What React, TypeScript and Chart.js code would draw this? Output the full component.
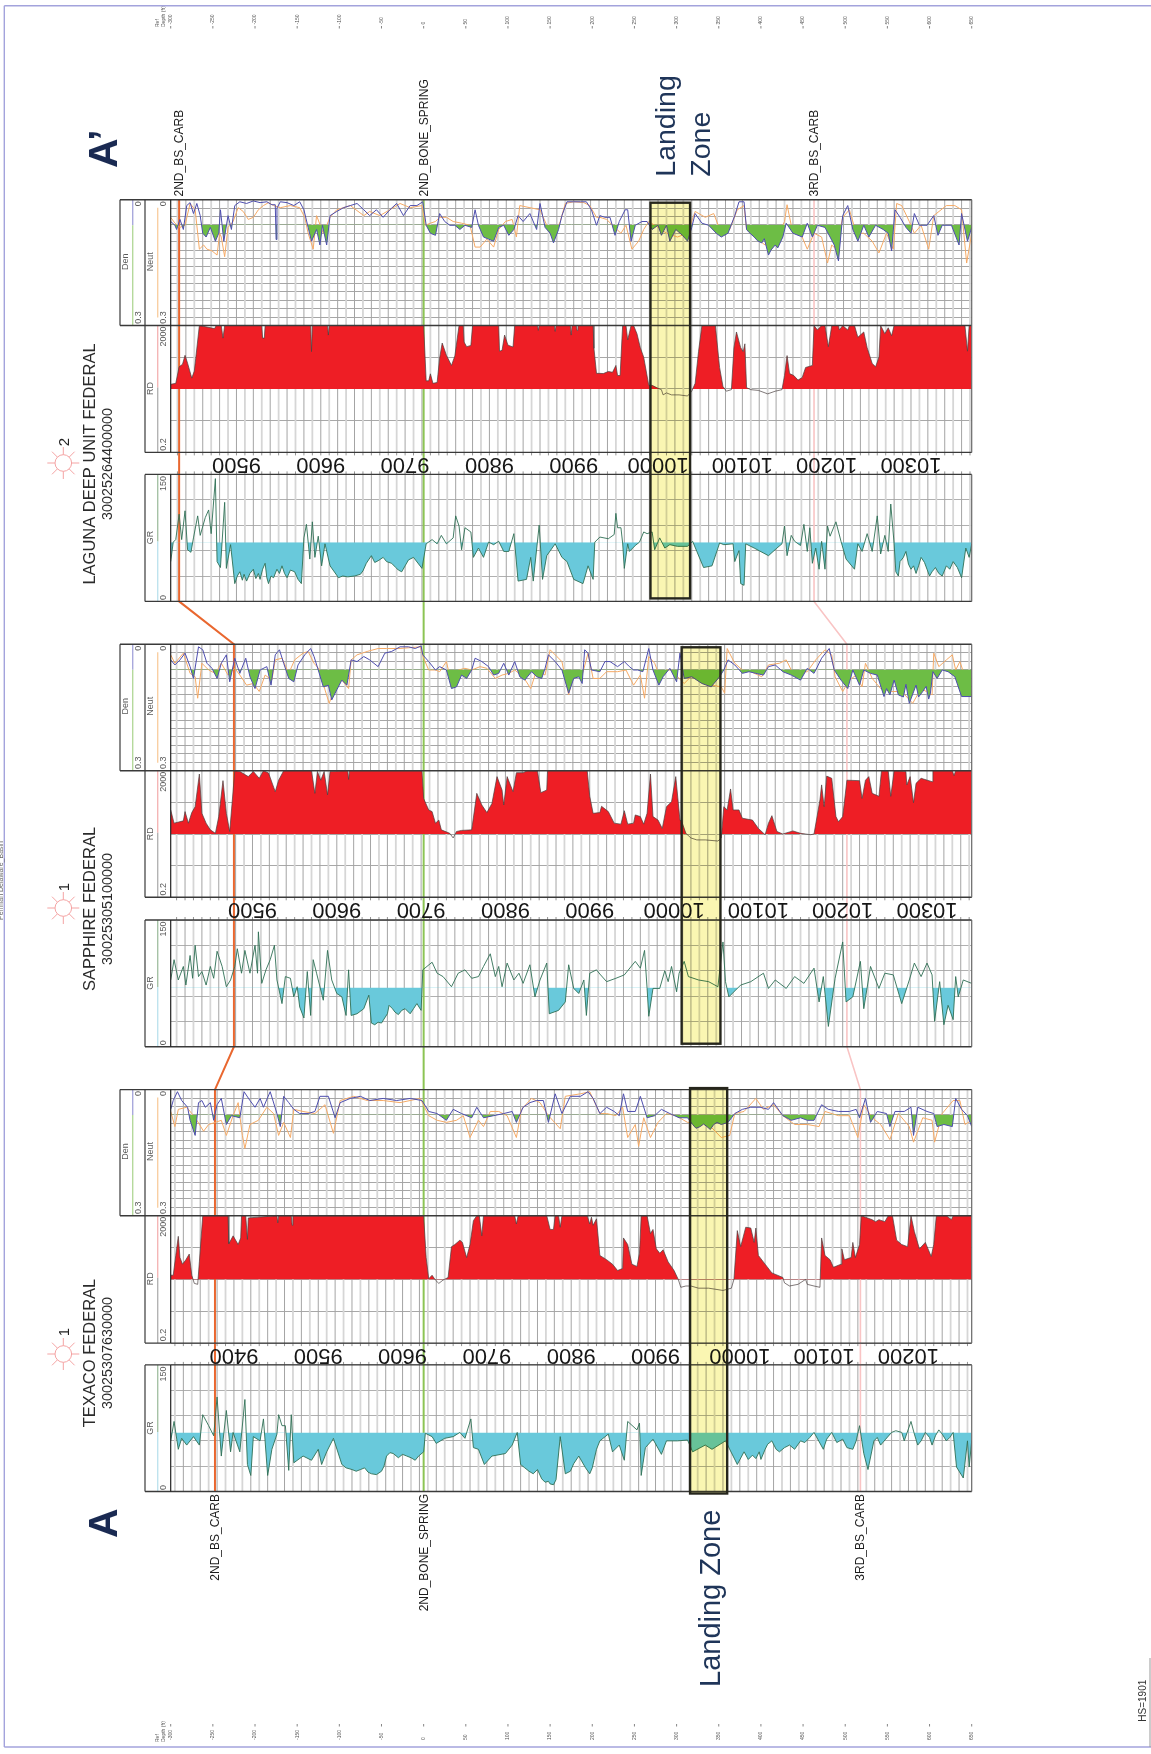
import React, { useEffect, useRef } from "react";
import { Chart, registerables } from "chart.js";

Chart.register(...registerables);

// ---- Curves: [relative depth ft, log value] ----
const denLaguna = [[-300,.052],[-295,.061],[-293,.071],[-289,.047],[-285,.071],[-281,.014],[-277,.007],[-273,.033],[-269,.009],[-265,.038],[-262,.08],[-258,.089],[-253,.066],[-247,.099],[-243,.08],[-241,.024],[-237,.099],[-232,.038],[-228,.071],[-224,.014],[-218,.005],[-210,.009],[-202,.003],[-194,.007],[-186,.005],[-180,.012],[-176,.012],[-175,.095],[-174,.02],[-170,.005],[-162,.007],[-154,.014],[-147,.005],[-142,.024],[-137,.066],[-133,.099],[-127,.071],[-123,.108],[-120,.061],[-115,.108],[-111,.038],[-103,.028],[-95,.019],[-87,.014],[-79,.009],[-71,.024],[-64,.038],[-56,.024],[-48,.042],[-40,.024],[-32,.009],[-24,.038],[-16,.014],[-8,.014],[-1,.005],[3,.061],[8,.08],[14,.085],[19,.033],[25,.052],[31,.061],[37,.061],[43,.071],[49,.061],[57,.066],[61,.024],[65,.061],[71,.089],[77,.094],[83,.099],[89,.066],[95,.061],[101,.085],[107,.071],[112,.038],[118,.052],[126,.033],[134,.071],[138,.009],[144,.066],[150,.08],[154,.103],[160,.071],[164,.038],[170,.005],[178,.005],[186,.005],[193,.005],[199,.024],[205,.061],[209,.038],[215,.042],[221,.042],[227,.085],[232,.052],[239,.024],[242,.024],[246,.099],[251,.061],[259,.052],[265,.052],[271,.071],[278,.061],[282,.085],[288,.061],[292,.099],[299,.071],[307,.085],[313,.099],[318,.066],[322,.033],[330,.056],[338,.061],[347,.08],[353,.089],[361,.08],[369,.038],[374,.005],[380,.005],[383,.071],[386,.078],[392,.089],[396,.098],[401,.103],[404,.093],[409,.132],[412,.12],[417,.108],[420,.115],[426,.089],[430,.056],[438,.08],[449,.089],[455,.056],[461,.089],[467,.061],[476,.066],[482,.089],[487,.108],[492,.146],[497,.038],[503,.014],[509,.071],[515,.099],[522,.061],[528,.089],[536,.061],[545,.071],[551,.08],[555,.122],[559,.024],[565,.042],[572,.066],[578,.08],[582,.033],[588,.061],[597,.061],[605,.038],[610,.085],[615,.061],[626,.061],[635,.108],[638,.033],[645,.099],[650,.066]];
const neutLaguna = [[-300,.042],[-295,.056],[-289,.066],[-283,.061],[-277,.009],[-271,.024],[-268,.08],[-266,.118],[-261,.108],[-257,.118],[-251,.122],[-245,.132],[-242,.08],[-240,.089],[-236,.136],[-232,.066],[-226,.052],[-220,.019],[-214,.028],[-208,.047],[-202,.042],[-196,.024],[-190,.014],[-184,.007],[-178,.014],[-170,.019],[-158,.014],[-147,.019],[-141,.042],[-137,.08],[-131,.118],[-127,.038],[-119,.08],[-111,.042],[-103,.024],[-87,.014],[-71,.038],[-64,.028],[-52,.038],[-40,.024],[-28,.009],[-16,.019],[-2,.014],[2,.061],[8,.056],[14,.052],[19,.042],[27,.042],[35,.052],[45,.056],[55,.061],[61,.113],[67,.113],[75,.094],[83,.113],[89,.071],[97,.052],[105,.047],[110,.089],[114,.014],[126,.019],[138,.024],[146,.061],[154,.089],[162,.052],[168,.009],[178,.005],[190,.007],[197,.014],[205,.042],[209,.042],[217,.047],[224,.061],[234,.08],[240,.061],[247,.118],[255,.099],[261,.071],[267,.052],[278,.066],[288,.08],[301,.089],[313,.08],[322,.028],[334,.042],[344,.033],[353,.08],[363,.071],[372,.024],[380,.014],[383,.071],[392,.089],[405,.108],[417,.099],[428,.052],[431,.012],[436,.061],[447,.08],[455,.118],[463,.08],[472,.089],[479,.151],[484,.108],[489,.118],[497,.042],[505,.024],[513,.08],[522,.08],[532,.099],[540,.127],[549,.08],[557,.118],[561,.009],[567,.014],[576,.052],[582,.08],[590,.061],[599,.118],[605,.038],[620,.014],[630,.014],[638,.024],[644,.151],[650,.08]];
const rdLaguna = [[-300,28],[-294,30],[-290,100],[-286,120],[-283,230],[-280,130],[-275,44],[-272,73],[-266,2000],[-248,1600],[-246,2000],[-240,2000],[-238,800],[-236,2000],[-192,2000],[-191,800],[-189,800],[-188,2000],[-134,2000],[-133,300],[-132,2000],[-114,2000],[-113,1000],[-112,2000],[0,2000],[3,36],[6,36],[8,60],[11,30],[16,32],[19,190],[22,560],[27,230],[33,110],[37,220],[42,2000],[47,2000],[48,600],[51,430],[56,470],[58,2000],[89,2000],[90,310],[93,330],[96,1000],[100,480],[106,420],[108,2000],[135,2000],[136,1400],[137,2000],[155,2000],[156,1300],[157,2000],[174,2000],[175,1000],[176,2000],[181,2000],[182,1400],[183,2000],[201,2000],[202,380],[205,62],[209,62],[213,61],[219,71],[224,67],[228,110],[230,53],[233,53],[236,2000],[240,2000],[242,700],[246,2000],[249,2000],[253,1100],[257,400],[261,200],[267,26],[271,26],[278,21],[282,19],[284,13],[288,15],[294,13],[303,13],[313,12],[318,17],[322,30],[326,300],[330,2000],[346,2000],[351,95],[355,24],[359,17],[365,19],[368,400],[371,1250],[376,400],[379,300],[381,530],[383,22],[388,19],[397,18],[408,14],[417,17],[425,19],[428,53],[431,225],[434,61],[439,53],[444,38],[449,46],[453,95],[461,110],[463,2000],[467,1450],[472,2000],[476,2000],[480,430],[484,2000],[492,2000],[493,1450],[497,2000],[503,1450],[505,2000],[511,2000],[515,850],[522,1250],[526,400],[532,127],[536,100],[540,200],[542,2000],[547,1100],[551,1700],[555,950],[558,2000],[642,2000],[645,310],[647,2000],[650,2000]];
const grLaguna = [[-300,47],[-297,70],[-294,73],[-290,103],[-287,73],[-283,107],[-280,61],[-276,58],[-273,75],[-268,101],[-265,78],[-259,99],[-255,108],[-252,80],[-247,145],[-245,47],[-241,40],[-236,117],[-234,39],[-229,67],[-224,21],[-221,30],[-218,35],[-215,25],[-213,32],[-210,24],[-206,33],[-202,38],[-199,27],[-196,33],[-194,26],[-191,38],[-188,45],[-186,28],[-184,21],[-181,30],[-178,28],[-174,38],[-171,33],[-168,42],[-165,33],[-162,28],[-158,37],[-153,35],[-149,26],[-145,21],[-142,75],[-139,91],[-135,50],[-132,94],[-129,52],[-125,77],[-121,42],[-117,68],[-111,42],[-101,28],[-96,30],[-90,29],[-82,30],[-75,32],[-72,36],[-68,45],[-62,54],[-58,46],[-54,48],[-48,52],[-44,47],[-38,45],[-33,40],[-30,37],[-26,35],[-22,42],[-18,49],[-12,52],[-2,39],[3,68],[10,73],[16,68],[21,78],[27,68],[35,75],[38,101],[42,89],[45,61],[49,87],[56,82],[59,52],[65,63],[71,52],[77,70],[83,67],[89,71],[95,59],[101,59],[107,80],[112,24],[122,26],[127,52],[130,24],[137,90],[141,26],[146,54],[156,68],[164,52],[170,47],[178,26],[189,21],[195,42],[201,26],[203,70],[209,76],[219,74],[226,79],[228,104],[230,87],[234,87],[236,69],[238,39],[242,68],[244,59],[251,66],[256,70],[261,82],[265,80],[271,82],[274,61],[280,75],[286,63],[292,67],[301,65],[313,65],[319,71],[324,59],[332,40],[342,42],[351,69],[356,67],[367,68],[369,47],[374,60],[376,21],[380,19],[382,68],[392,63],[409,54],[419,63],[425,68],[428,89],[431,54],[436,78],[440,71],[447,66],[451,91],[455,59],[458,87],[461,45],[465,63],[469,38],[472,71],[476,38],[479,89],[482,77],[489,94],[495,71],[501,50],[511,38],[515,68],[520,59],[526,80],[532,59],[538,101],[542,56],[547,78],[551,59],[554,115],[558,68],[560,35],[563,30],[565,47],[569,52],[572,59],[575,44],[578,38],[581,42],[584,33],[587,42],[590,52],[594,46],[597,38],[600,30],[603,35],[607,40],[611,33],[615,30],[620,42],[624,38],[628,47],[633,40],[638,28],[643,63],[647,52],[650,68]];

const denSapphire = [[-300,.037],[-295,.049],[-289,.037],[-283,.021],[-277,.053],[-273,.081],[-267,.006],[-262,.013],[-257,.045],[-251,.057],[-245,.081],[-240,.045],[-234,.025],[-230,.089],[-224,.033],[-218,.069],[-211,.033],[-206,.077],[-200,.105],[-194,.061],[-186,.053],[-181,.097],[-176,.025],[-171,.013],[-166,.045],[-160,.081],[-154,.089],[-149,.049],[-141,.025],[-134,.01],[-130,.029],[-125,.061],[-119,.101],[-113,.097],[-109,.132],[-103,.108],[-97,.085],[-91,.097],[-86,.037],[-79,.041],[-71,.029],[-64,.037],[-54,.053],[-46,.021],[-38,.017],[-28,.006],[-18,.006],[-10,.01],[-3,.004],[-1,.025],[6,.041],[14,.061],[19,.053],[27,.061],[33,.105],[39,.101],[45,.073],[51,.081],[57,.061],[61,.033],[69,.041],[77,.053],[83,.073],[89,.069],[95,.045],[101,.073],[108,.041],[114,.077],[120,.085],[128,.065],[134,.077],[140,.081],[144,.057],[148,.025],[156,.041],[164,.061],[172,.116],[178,.081],[184,.077],[188,.093],[191,.013],[195,.021],[199,.061],[209,.065],[215,.041],[221,.041],[230,.053],[238,.041],[244,.053],[249,.061],[254,.061],[260,.065],[267,.01],[272,.061],[279,.097],[284,.077],[292,.057],[300,.089],[304,.021],[309,.081],[318,.077],[330,.093],[341,.101],[351,.077],[356,.061],[361,.037],[369,.049],[378,.069],[386,.065],[394,.069],[403,.073],[409,.053],[417,.049],[426,.065],[436,.073],[447,.085],[455,.057],[463,.069],[472,.033],[481,.01],[487,.061],[495,.085],[503,.105],[509,.061],[517,.097],[522,.061],[530,.069],[538,.073],[546,.124],[549,.105],[553,.12],[556,.098],[558,.085],[563,.12],[569,.125],[572,.095],[576,.14],[584,.097],[587,.125],[592,.112],[596,.1],[599,.13],[601,.116],[604,.065],[609,.081],[615,.061],[622,.065],[630,.077],[638,.124],[650,.124]];
const neutSapphire = [[-300,.025],[-295,.045],[-285,.021],[-277,.069],[-271,.077],[-268,.128],[-263,.045],[-255,.061],[-247,.069],[-240,.045],[-232,.073],[-224,.057],[-218,.073],[-210,.097],[-202,.093],[-195,.112],[-188,.073],[-180,.085],[-176,.037],[-168,.033],[-160,.069],[-153,.037],[-143,.021],[-137,.017],[-130,.045],[-123,.061],[-117,.108],[-112,.14],[-105,.101],[-97,.085],[-89,.105],[-86,.037],[-79,.025],[-67,.017],[-54,.01],[-44,.01],[-28,.01],[-4,.006],[0,.033],[6,.061],[14,.061],[19,.065],[27,.041],[33,.093],[41,.061],[49,.057],[57,.061],[67,.053],[75,.057],[85,.081],[93,.073],[101,.069],[108,.061],[118,.077],[127,.105],[134,.061],[144,.073],[150,.013],[158,.029],[164,.041],[172,.12],[178,.069],[188,.073],[195,.021],[201,.081],[209,.081],[217,.065],[230,.065],[240,.061],[249,.097],[257,.073],[262,.128],[267,.029],[274,.045],[280,.077],[288,.061],[294,.061],[303,.081],[309,.093],[317,.077],[330,.085],[342,.097],[353,.101],[357,.116],[360,.01],[369,.045],[378,.061],[388,.065],[401,.077],[409,.049],[422,.045],[430,.037],[438,.069],[455,.065],[465,.037],[476,.013],[484,.025],[488,.077],[497,.112],[505,.085],[513,.073],[520,.101],[524,.045],[532,.081],[542,.105],[555,.112],[567,.112],[580,.14],[590,.105],[603,.12],[605,.021],[611,.053],[620,.037],[627,.025],[631,.061],[636,.041],[650,.124]];
const rdSapphire = [[-300,115],[-296,44],[-285,52],[-283,102],[-279,44],[-275,95],[-271,146],[-266,1570],[-263,90],[-258,44],[-253,27],[-247,21],[-243,71],[-238,970],[-234,90],[-230,24],[-224,2000],[-218,1900],[-208,1300],[-202,1900],[-195,1150],[-190,2000],[-184,1700],[-176,435],[-172,1000],[-166,2000],[-133,2000],[-129,385],[-126,1900],[-122,1000],[-118,1900],[-114,345],[-111,1900],[-90,2000],[-89,1060],[-88,2000],[-2,2000],[0,265],[6,115],[10,102],[14,44],[18,55],[21,27],[31,21],[35,15],[39,24],[45,26],[57,27],[63,385],[69,165],[75,95],[81,185],[87,1300],[93,490],[95,165],[99,1300],[106,435],[110,1730],[118,1730],[123,2000],[135,1950],[139,405],[146,490],[147,2000],[194,2000],[197,310],[201,90],[209,95],[211,150],[219,102],[226,44],[234,41],[238,109],[242,41],[249,44],[251,80],[257,71],[261,41],[265,90],[269,1570],[272,71],[278,55],[283,30],[288,146],[294,210],[299,1300],[304,55],[306,51],[311,21],[317,15],[324,13],[334,13],[349,12],[353,15],[356,146],[360,115],[364,530],[367,115],[374,115],[378,63],[390,55],[397,30],[405,19],[409,44],[413,76],[419,24],[426,20],[438,25],[447,21],[459,19],[463,20],[470,237],[472,712],[475,146],[478,1350],[484,1150],[489,71],[492,49],[497,71],[502,1000],[517,970],[520,265],[524,1000],[528,1300],[532,385],[540,310],[543,2000],[551,2000],[554,310],[558,2000],[572,1900],[573,712],[577,1300],[581,195],[584,800],[590,1150],[603,900],[604,2000],[627,2000],[629,1400],[631,2000],[650,2000]];
const grSapphire = [[-300,79],[-296,103],[-291,79],[-285,95],[-282,73],[-277,108],[-274,81],[-271,120],[-267,83],[-263,89],[-258,73],[-253,95],[-249,81],[-245,113],[-239,95],[-234,71],[-229,79],[-224,95],[-221,116],[-216,87],[-212,114],[-206,87],[-200,120],[-197,87],[-196,136],[-192,75],[-187,91],[-182,103],[-177,120],[-174,79],[-168,51],[-164,83],[-158,81],[-154,59],[-150,71],[-147,47],[-142,34],[-138,89],[-134,37],[-131,103],[-127,87],[-119,55],[-114,114],[-109,79],[-103,63],[-97,59],[-92,37],[-89,91],[-86,37],[-79,39],[-71,45],[-65,61],[-62,28],[-58,26],[-54,29],[-50,28],[-43,39],[-41,49],[-37,45],[-34,41],[-30,38],[-26,43],[-22,45],[-16,39],[-12,45],[-8,51],[-3,43],[-1,91],[10,100],[16,87],[23,83],[33,71],[41,87],[49,91],[57,81],[65,83],[71,95],[79,110],[85,83],[89,95],[93,71],[99,99],[107,79],[113,87],[118,75],[126,97],[132,59],[138,79],[146,99],[149,39],[160,43],[168,53],[172,97],[178,69],[184,63],[190,79],[193,37],[197,87],[205,91],[209,86],[217,77],[228,81],[238,85],[251,101],[257,93],[262,114],[265,69],[267,36],[272,69],[280,69],[286,90],[290,77],[294,95],[300,65],[303,87],[309,101],[314,83],[326,79],[338,77],[349,71],[355,124],[358,77],[362,59],[376,73],[388,77],[403,87],[409,69],[417,79],[430,69],[440,83],[451,75],[463,93],[469,53],[474,83],[480,24],[488,81],[497,124],[501,53],[509,59],[518,101],[522,45],[530,95],[540,69],[547,87],[557,85],[567,51],[576,79],[582,99],[590,83],[597,99],[603,85],[606,30],[612,77],[617,26],[622,49],[628,32],[631,83],[634,59],[640,79],[650,75]];

const denTexaco = [[-300,.047],[-297,.026],[-292,.005],[-287,.026],[-280,.042],[-277,.073],[-271,.109],[-267,.031],[-263,.026],[-259,.042],[-253,.031],[-249,.073],[-245,.036],[-240,.021],[-234,.083],[-228,.062],[-218,.067],[-213,.005],[-206,.026],[-200,.042],[-194,.021],[-190,.042],[-182,.005],[-174,.057],[-170,.088],[-166,.016],[-160,.031],[-154,.047],[-147,.057],[-137,.057],[-129,.052],[-123,.016],[-113,.016],[-105,.067],[-99,.031],[-87,.021],[-75,.016],[-64,.026],[-48,.021],[-32,.026],[-16,.021],[-2,.026],[6,.052],[16,.057],[27,.073],[35,.047],[45,.057],[57,.067],[63,.042],[71,.067],[83,.062],[95,.057],[105,.052],[110,.078],[118,.042],[126,.031],[134,.026],[142,.026],[148,.078],[156,.01],[164,.057],[174,.016],[186,.016],[195,.005],[201,.021],[209,.057],[217,.042],[226,.052],[232,.062],[237,.01],[242,.052],[251,.052],[257,.016],[265,.067],[274,.062],[282,.047],[292,.057],[303,.067],[313,.067],[319,.083],[323,.092],[328,.088],[332,.082],[336,.088],[340,.095],[344,.083],[348,.078],[353,.083],[361,.078],[369,.057],[378,.047],[388,.042],[399,.042],[409,.047],[415,.031],[426,.062],[436,.073],[447,.067],[455,.073],[463,.073],[472,.036],[480,.047],[492,.052],[505,.052],[513,.047],[517,.067],[524,.021],[530,.078],[538,.052],[549,.057],[553,.088],[559,.052],[570,.052],[578,.042],[581,.109],[586,.042],[597,.052],[605,.057],[609,.088],[617,.083],[627,.088],[631,.021],[638,.047],[645,.062],[650,.088]];
const neutTexaco = [[-300,.052],[-295,.088],[-291,.047],[-281,.042],[-275,.057],[-269,.073],[-261,.099],[-255,.083],[-247,.078],[-240,.073],[-234,.109],[-226,.062],[-220,.031],[-215,.109],[-212,.14],[-206,.083],[-196,.073],[-186,.042],[-178,.057],[-172,.109],[-166,.078],[-158,.114],[-154,.047],[-143,.052],[-129,.057],[-117,.036],[-107,.104],[-99,.026],[-83,.016],[-67,.026],[-48,.026],[-28,.031],[-4,.021],[6,.062],[16,.073],[27,.078],[39,.073],[47,.062],[55,.114],[65,.073],[71,.088],[79,.052],[89,.052],[99,.062],[110,.114],[116,.047],[128,.021],[138,.031],[148,.062],[162,.093],[168,.016],[186,.01],[197,.005],[209,.057],[217,.057],[228,.062],[236,.042],[242,.114],[251,.083],[255,.135],[261,.067],[269,.114],[278,.078],[288,.057],[299,.062],[313,.078],[324,.078],[338,.083],[353,.114],[363,.109],[369,.057],[380,.052],[394,.021],[403,.047],[415,.036],[426,.062],[440,.083],[455,.083],[469,.088],[476,.052],[492,.062],[505,.062],[515,.114],[522,.036],[532,.067],[542,.083],[553,.119],[563,.057],[576,.088],[581,.125],[592,.067],[603,.073],[606,.125],[615,.057],[628,.026],[636,.026],[642,.083],[650,.073]];
const rdTexaco = [[-300,27],[-297,27],[-294,113],[-291,450],[-289,97],[-286,60],[-282,83],[-278,125],[-275,27],[-272,15],[-268,14],[-266,71],[-262,2000],[-232,2000],[-231,265],[-226,466],[-220,249],[-217,400],[-216,2000],[-211,2000],[-209,360],[-208,1700],[-174,2000],[-173,1190],[-172,2000],[-157,2000],[-156,1000],[-155,2000],[0,2000],[3,97],[6,21],[10,27],[14,19],[18,15],[23,19],[29,23],[33,213],[37,249],[43,341],[46,290],[51,97],[55,249],[59,1400],[63,2000],[66,2000],[69,466],[71,2000],[108,2000],[110,1100],[112,2000],[146,2000],[150,740],[154,740],[156,2000],[160,2000],[162,870],[164,2000],[194,2000],[197,1100],[199,1800],[201,1000],[205,1600],[209,113],[217,83],[224,60],[230,38],[236,44],[237,400],[242,249],[247,60],[253,51],[256,133],[258,2000],[265,2000],[269,550],[272,740],[276,182],[280,133],[284,170],[290,71],[297,38],[302,20],[305,11.3],[311,12.4],[317,12.4],[326,10.6],[338,10.6],[355,9],[365,10.6],[368,20],[372,680],[376,213],[382,870],[388,820],[392,290],[394,820],[397,113],[405,60],[413,32],[426,23],[428,15.5],[434,12.4],[444,14],[453,20],[455,14],[463,12.4],[470,11.3],[472,400],[476,113],[482,83],[486,48],[495,60],[496,182],[499,83],[507,97],[509,290],[512,97],[517,249],[519,2000],[532,1500],[536,1300],[540,1500],[547,1300],[551,2000],[556,2000],[561,341],[567,249],[574,213],[578,2000],[582,637],[588,182],[595,290],[602,105],[605,249],[608,2000],[620,2000],[626,1500],[628,2000],[650,2000]];
const grTexaco = [[-300,60],[-296,83],[-291,50],[-287,63],[-281,55],[-273,65],[-266,55],[-262,91],[-255,78],[-249,66],[-245,112],[-240,42],[-234,96],[-229,47],[-226,70],[-218,47],[-212,109],[-209,32],[-205,19],[-202,65],[-194,60],[-190,86],[-185,19],[-180,50],[-174,68],[-172,91],[-168,78],[-164,78],[-160,25],[-157,91],[-154,34],[-143,42],[-133,37],[-125,50],[-121,32],[-115,47],[-107,63],[-97,32],[-92,28],[-85,26],[-80,24],[-75,26],[-70,28],[-66,23],[-62,21],[-56,20],[-50,24],[-47,30],[-44,42],[-40,46],[-36,45],[-30,40],[-25,44],[-20,42],[-15,40],[-10,37],[-6,42],[0,47],[2,69],[10,65],[15,57],[25,63],[35,65],[43,70],[49,63],[56,86],[59,52],[65,50],[72,32],[81,42],[97,45],[105,55],[111,70],[115,32],[120,28],[125,24],[130,21],[135,26],[140,15],[144,11],[148,12],[150,9],[154,8],[157,14],[162,65],[168,21],[174,24],[178,33],[184,42],[188,35],[192,28],[197,21],[200,28],[205,50],[209,60],[219,68],[224,47],[232,55],[238,37],[242,83],[253,73],[256,81],[258,19],[263,52],[272,62],[282,44],[288,60],[301,60],[313,61],[319,47],[334,55],[342,50],[358,60],[372,32],[380,47],[385,38],[390,43],[394,39],[398,47],[400,38],[405,50],[408,56],[413,60],[418,50],[422,47],[428,52],[434,55],[440,50],[447,60],[452,58],[458,64],[463,70],[474,50],[478,62],[484,70],[490,58],[497,62],[502,52],[509,50],[513,60],[517,78],[522,45],[527,26],[534,60],[538,64],[542,55],[548,62],[555,70],[560,72],[567,70],[570,60],[578,83],[582,68],[586,55],[590,60],[595,70],[600,64],[603,55],[607,66],[611,73],[615,68],[620,60],[624,64],[628,70],[632,29],[640,16],[645,60],[647,29],[650,60]];

// ---- Wells, tops and labels ----
const wellNames = ["LAGUNA DEEP UNIT FEDERAL", "SAPPHIRE FEDERAL", "TEXACO FEDERAL"];
const wellApis = ["30025264400000", "30025305100000", "30025307630000"];
const wellNumbers = ["2", "1", "1"];
const depthAtZero = [9722, 9703, 9625];
const depthLabels = [
  [9500, 9600, 9700, 9800, 9900, 10000, 10100, 10200, 10300],
  [9500, 9600, 9700, 9800, 9900, 10000, 10100, 10200, 10300],
  [9400, 9500, 9600, 9700, 9800, 9900, 10000, 10100, 10200],
];
const top2ndBsCarb = [-290, -225, -247.5];
const top2ndBoneSpring = [0, 0, 0];
const top3rdBsCarb = [463, 502, 518];
const landingTop = [269, 306, 316];
const landingBase = [316, 352, 360];
const relTicks = [-300,-250,-200,-150,-100,-50,0,50,100,150,200,250,300,350,400,450,500,550,600,650];
const rdGrid = [0.2, 2, 20, 200, 2000];

// ---- Layout and style ----
const X_LEFT = 170.7, X_RIGHT = 971.7, BOX_L = 120, BOX_M = 145;
const ROWS = [
  { y0: 199.7, y1: 325.5, y2: 452.4, y3: 474.4, y4: 601.4, cy: 464, starY: 463, numY: 442 },
  { y0: 644.3, y1: 770.7, y2: 897.3, y3: 920, y4: 1046.7, cy: 909, starY: 908, numY: 887 },
  { y0: 1089.6, y1: 1215.7, y2: 1343.1, y3: 1364.9, y4: 1491.5, cy: 1353, starY: 1354, numY: 1332 },
];
const FONT = "'Liberation Sans', Arial, sans-serif";
const NAVY = "#1f3559";

const xy = (a: number[][]) => a.map(([x, y]) => ({ x, y }));

function vText(ctx: any, s: string, x: number, y: number, font: string, color: string, align: CanvasTextAlign = "center", base: CanvasTextBaseline = "alphabetic") {
  ctx.save();
  ctx.translate(x, y);
  ctx.rotate(-Math.PI / 2);
  ctx.font = font;
  ctx.fillStyle = color;
  ctx.textAlign = align;
  ctx.textBaseline = base;
  ctx.fillText(s, 0, 0);
  ctx.restore();
}

function seg(ctx: any, x1: number, y1: number, x2: number, y2: number, color: string, w: number) {
  ctx.strokeStyle = color;
  ctx.lineWidth = w;
  ctx.beginPath();
  ctx.moveTo(x1, y1);
  ctx.lineTo(x2, y2);
  ctx.stroke();
}

const sheet = {
  id: "sheet",
  afterLayout(chart: any) {
    ROWS.forEach((r, i) => {
      const place = (id: string, top: number, bottom: number) => {
        const s = chart.scales[id];
        s.top = top; s.bottom = bottom; s.height = bottom - top;
        s.configure();
        s._gridLineItems = null;
      };
      place("yPor" + i, r.y0, r.y1);
      place("yRd" + i, r.y1, r.y2);
      place("yGr" + i, r.y3, r.y4);
    });
  },
  beforeDatasetsDraw(chart: any) {
    const { ctx } = chart;
    const x = chart.scales.x;
    ctx.save();
    // depth grid, one line each 10 ft of measured depth
    ROWS.forEach((r, i) => {
      const off = depthAtZero[i];
      const first = Math.ceil((off - 300) / 10) * 10;
      for (let d = first; d - off <= 650; d += 10) {
        const px = x.getPixelForValue(d - off);
        const strong = d % 20 === 0;
        const color = strong ? "#a4a4a4" : "#d6d6d6";
        const w = strong ? 1 : 1.8;
        seg(ctx, px, r.y0, px, r.y2, color, w);
        seg(ctx, px, r.y3, px, r.y4, color, w);
        seg(ctx, px, r.y2, px, r.y2 + 3, "#777", 0.8);
        seg(ctx, px, r.y3 - 3, px, r.y3, "#777", 0.8);
      }
    });
    // correlation lines between wells
    const corr = (tops: number[], color: string, w: number) => {
      ctx.strokeStyle = color;
      ctx.lineWidth = w;
      ctx.beginPath();
      ROWS.forEach((r, i) => {
        const px = x.getPixelForValue(tops[i]);
        if (i === 0) ctx.moveTo(px, r.y0); else ctx.lineTo(px, r.y0);
        ctx.lineTo(px, r.y4);
      });
      ctx.stroke();
    };
    corr(top3rdBsCarb, "#f9c4c4", 1.6);
    corr(top2ndBoneSpring, "#8cc454", 2);
    corr(top2ndBsCarb, "#e9672f", 2);
    ctx.restore();
  },
  afterDatasetsDraw(chart: any) {
    const { ctx } = chart;
    const x = chart.scales.x;
    ctx.save();
    ROWS.forEach((r, i) => {
      // depth labels, printed upside down
      ctx.font = `22px ${FONT}`;
      ctx.fillStyle = "#161616";
      ctx.textAlign = "center";
      ctx.textBaseline = "middle";
      depthLabels[i].forEach((d) => {
        ctx.save();
        ctx.translate(x.getPixelForValue(d - depthAtZero[i]), (r.y2 + r.y3) / 2 + 0.8);
        ctx.rotate(Math.PI);
        ctx.fillText(String(d), 0, 0);
        ctx.restore();
      });
      // header colour strips
      const stripA = BOX_L + 12.7, stripB = BOX_M + 12.7;
      seg(ctx, stripA, r.y0, stripA, r.y0 + 25.5, "#a9a9dc", 1.4);
      seg(ctx, stripA, r.y0 + 25.5, stripA, r.y1, "#b5d99c", 1.4);
      seg(ctx, stripB, r.y0 + 8, stripB, r.y1 - 8, "#f9cfa3", 1.4);
      seg(ctx, stripB, r.y1, stripB, r.y1 + 62, "#f4b6b6", 1.4);
      seg(ctx, stripB, r.y1 + 62, stripB, r.y2, "#b3b3b3", 1.4);
      seg(ctx, stripB, r.y3, stripB, r.y3 + 67, "#a6c2a6", 1.4);
      seg(ctx, stripB, r.y3 + 67, stripB, r.y4, "#bfe3ee", 1.4);
      // header text
      const small = `9px ${FONT}`;
      const g = "#5a5a5a";
      vText(ctx, "Den", 126, r.y0 + 62, small, g, "center", "middle");
      vText(ctx, "Neut", 151, r.y0 + 62, small, g, "center", "middle");
      vText(ctx, "RD", 151, r.y1 + 63, small, g, "center", "middle");
      vText(ctx, "GR", 151, r.y3 + 63, small, g, "center", "middle");
      vText(ctx, "0", 138.3, r.y0 + 4, small, g, "center", "middle");
      vText(ctx, "0.3", 138.3, r.y1 - 8, small, g, "center", "middle");
      vText(ctx, "0", 163.5, r.y0 + 4, small, g, "center", "middle");
      vText(ctx, "0.3", 163.5, r.y1 - 8, small, g, "center", "middle");
      vText(ctx, "2000", 163.5, r.y1 + 11, small, g, "center", "middle");
      vText(ctx, "0.2", 163.5, r.y2 - 8, small, g, "center", "middle");
      vText(ctx, "150", 163.5, r.y3 + 9, small, g, "center", "middle");
      vText(ctx, "0", 163.5, r.y4 - 4, small, g, "center", "middle");
      // frame of the tracks
      const dark = "#3a3a3a";
      seg(ctx, BOX_L, r.y0, X_RIGHT, r.y0, dark, 1.4);
      seg(ctx, BOX_L, r.y1, X_RIGHT, r.y1, dark, 1.4);
      seg(ctx, BOX_M, r.y2, X_RIGHT, r.y2, dark, 1.4);
      seg(ctx, BOX_M, r.y3, X_RIGHT, r.y3, dark, 1.4);
      seg(ctx, BOX_M, r.y4, X_RIGHT, r.y4, dark, 1.4);
      seg(ctx, BOX_L, r.y0, BOX_L, r.y1, dark, 1.2);
      seg(ctx, BOX_M, r.y0, BOX_M, r.y2, dark, 1.2);
      seg(ctx, BOX_M, r.y3, BOX_M, r.y4, dark, 1.2);
      seg(ctx, X_LEFT, r.y0, X_LEFT, r.y2, "#222", 1.2);
      seg(ctx, X_LEFT, r.y3, X_LEFT, r.y4, "#222", 1.2);
      seg(ctx, X_RIGHT, r.y0, X_RIGHT, r.y2, "#666", 1.2);
      seg(ctx, X_RIGHT, r.y3, X_RIGHT, r.y4, "#666", 1.2);
      // landing zone box
      const a = x.getPixelForValue(landingTop[i]);
      const b = x.getPixelForValue(landingBase[i]);
      const bt = r.y0 + 3, bb = i === 2 ? r.y4 + 2 : r.y4 - 3;
      const boxTop = i === 2 ? r.y0 - 1.5 : bt;
      ctx.save();
      ctx.globalCompositeOperation = "multiply";
      ctx.fillStyle = "#faf6b2";
      ctx.fillRect(a, boxTop, b - a, bb - boxTop);
      ctx.restore();
      ctx.strokeStyle = "#26261c";
      ctx.lineWidth = 2.4;
      ctx.strokeRect(a, boxTop, b - a, bb - boxTop);
      // well symbol and names
      const sx = 63.3, sy = r.starY;
      ctx.strokeStyle = "#f4a3a3";
      ctx.lineWidth = 1;
      ctx.beginPath();
      ctx.arc(sx, sy, 8.3, 0, Math.PI * 2);
      ctx.stroke();
      for (let k = 0; k < 8; k++) {
        const t = (k * Math.PI) / 4;
        seg(ctx, sx + 8.3 * Math.cos(t), sy + 8.3 * Math.sin(t), sx + 16 * Math.cos(t), sy + 16 * Math.sin(t), "#f4a3a3", 1);
      }
      vText(ctx, wellNumbers[i], 69, r.numY, `15px ${FONT}`, "#222");
      vText(ctx, wellNames[i], 95, r.cy, `16.5px ${FONT}`, "#2b2b2b");
      vText(ctx, wellApis[i], 112.3, r.cy, `14.4px ${FONT}`, "#2b2b2b");
    });

    // formation labels
    const tops = [["2ND_BS_CARB", top2ndBsCarb], ["2ND_BONE_SPRING", top2ndBoneSpring], ["3RD_BS_CARB", top3rdBsCarb]] as [string, number[]][];
    tops.forEach(([name, t]) => {
      vText(ctx, name, x.getPixelForValue(t[0]) + 4, 196.5, `12px ${FONT}`, "#1c1c1c", "left");
      vText(ctx, name, x.getPixelForValue(t[2]) + 4, 1494, `12px ${FONT}`, "#1c1c1c", "right");
    });

    // big section labels
    vText(ctx, "A\u2019", 117, 168, `bold 41px ${FONT}`, "#1a2a52", "left");
    vText(ctx, "A", 117, 1538, `bold 41px ${FONT}`, "#1a2a52", "left");
    vText(ctx, "Landing", 674.8, 176.7, `28.5px ${FONT}`, NAVY, "left");
    vText(ctx, "Zone", 710, 176.7, `28.5px ${FONT}`, NAVY, "left");
    vText(ctx, "Landing Zone", 720, 1687, `29px ${FONT}`, NAVY, "left");

    // relative depth rulers
    relTicks.forEach((v) => {
      const px = x.getPixelForValue(v);
      const tiny = `5px ${FONT}`;
      vText(ctx, String(v), px, 24.5, tiny, "#555", "left", "middle");
      seg(ctx, px, 26, px, 28.5, "#666", 0.8);
      seg(ctx, px, 1724, px, 1726.5, "#666", 0.8);
      vText(ctx, String(v), px, 1740, tiny, "#555", "left", "middle");
    });
    const tiny = `5px ${FONT}`;
    vText(ctx, "Ref", 158, 27, tiny, "#555", "left", "middle");
    vText(ctx, "Depth (ft)", 164, 27, tiny, "#555", "left", "middle");
    vText(ctx, "Ref", 158, 1742, tiny, "#555", "left", "middle");
    vText(ctx, "Depth (ft)", 164, 1742, tiny, "#555", "left", "middle");

    // sheet frame
    seg(ctx, 4.3, 5.7, 1151, 5.7, "#a3a3dc", 1.4);
    seg(ctx, 4.3, 5.7, 4.3, 1747, "#a3a3dc", 1.4);
    seg(ctx, 4.3, 1747, 1151, 1747, "#a3a3dc", 1.4);
    seg(ctx, 1150, 1658, 1150, 1747, "#999", 1);
    vText(ctx, "HS=1901", 1146, 1721.7, `10px ${FONT}`, "#333", "left");
    vText(ctx, "Permian Delaware_Basin", 3, 920, `7px ${FONT}`, "#666", "left");
    ctx.restore();
  },
};

function trackSets(den: number[][], neut: number[][], rd: number[][], gr: number[][], i: number) {
  const base = { pointRadius: 0, tension: 0, xAxisID: "x" };
  return [
    { ...base, label: "Den", data: xy(den), yAxisID: "yPor" + i, order: 0, borderColor: "#4e4eae", borderWidth: 1,
      fill: { value: 0.06, above: "rgba(0,0,0,0)", below: "#6dbd45" } },
    { ...base, label: "Neut", data: xy(neut), yAxisID: "yPor" + i, order: 1, borderColor: "#f5aa66", borderWidth: 1, fill: false },
    { ...base, label: "RD", data: xy(rd), yAxisID: "yRd" + i, order: 2, borderColor: "#4a4040", borderWidth: 0.7,
      fill: { value: 20, above: "#ee1e25", below: "rgba(0,0,0,0)" } },
    { ...base, label: "GR", data: xy(gr), yAxisID: "yGr" + i, order: 3, borderColor: "#2f6f55", borderWidth: 0.9,
      fill: { value: 70, above: "rgba(0,0,0,0)", below: "#69c9db" } },
  ];
}

export default function App() {
  const ref = useRef<HTMLCanvasElement>(null);
  useEffect(() => {
    document.body.style.margin = "0";
    document.body.style.background = "#fff";
    const hidden = { display: false };
    const trackAxis = (extra: any, color: string) => ({
      axis: "y",
      position: "left",
      display: true,
      ticks: { display: false },
      border: { display: false },
      grid: { color, lineWidth: 1, drawTicks: false },
      ...extra,
    });
    const scales: any = {
      x: { type: "linear", axis: "x", position: "bottom", min: -300, max: 650, display: true, ticks: { display: false }, border: hidden, grid: { display: false, drawTicks: false } },
    };
    [0, 1, 2].forEach((i) => {
      scales["yPor" + i] = trackAxis({ type: "linear", min: 0, max: 0.3, reverse: true, ticks: { display: false, stepSize: 0.02 } }, "#a6a6a6");
      scales["yRd" + i] = trackAxis({
        type: "logarithmic", min: 0.2, max: 2000,
        afterBuildTicks: (s: any) => { s.ticks = rdGrid.map((value) => ({ value })); },
      }, "#a8a8a8");
      scales["yGr" + i] = trackAxis({ type: "linear", min: 0, max: 150, ticks: { display: false, stepSize: 30 } }, "#b0b0b0");
    });
    const chart = new Chart(ref.current as HTMLCanvasElement, {
      type: "line",
      data: {
        datasets: [
          ...trackSets(denLaguna, neutLaguna, rdLaguna, grLaguna, 0),
          ...trackSets(denSapphire, neutSapphire, rdSapphire, grSapphire, 1),
          ...trackSets(denTexaco, neutTexaco, rdTexaco, grTexaco, 2),
        ] as any,
      },
      options: {
        responsive: false,
        animation: false,
        devicePixelRatio: 1,
        layout: { padding: { left: X_LEFT, right: 1151 - X_RIGHT, top: 0, bottom: 0 } },
        scales,
        plugins: { legend: hidden, tooltip: { enabled: false } },
      } as any,
      plugins: [sheet as any],
    });
    return () => chart.destroy();
  }, []);
  return <canvas ref={ref} width={1151} height={1754} style={{ display: "block", filter: "blur(0.4px)" }} />;
}
